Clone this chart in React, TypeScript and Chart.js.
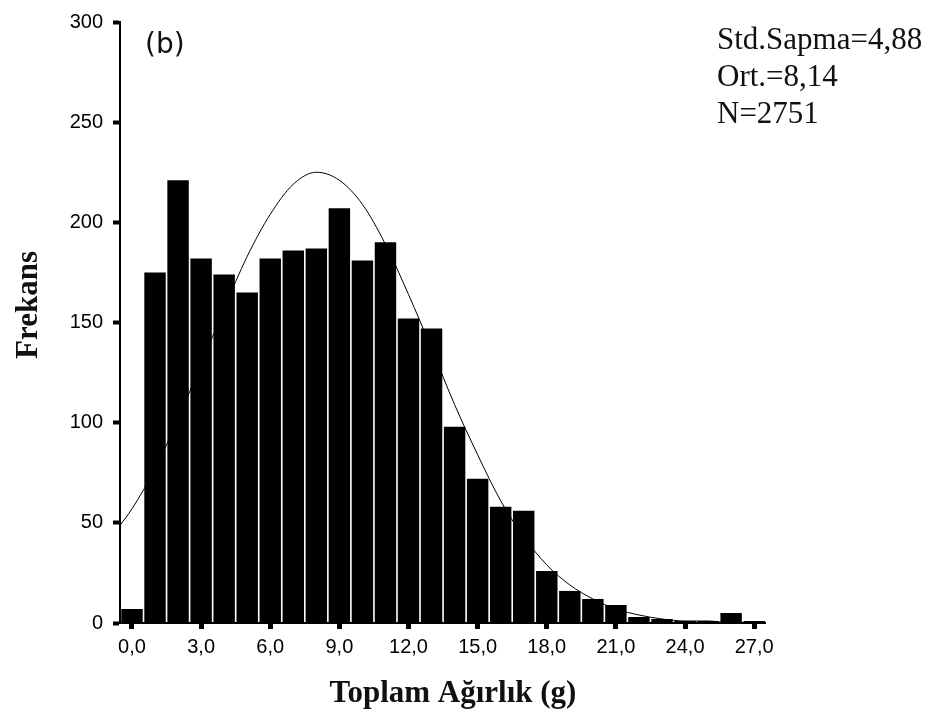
import React, { useEffect, useRef } from "react";
import { Chart, registerables } from "chart.js";

Chart.register(...registerables);

// Histogram bins (bin centres, g) and frequencies
const binCenters = [0, 1, 2, 3, 4, 5, 6, 7, 8, 9, 10, 11, 12, 13, 14, 15, 16, 17, 18, 19, 20, 21, 22, 23, 24, 25, 26, 27];
const frequencies = [7, 175, 221, 182, 174, 165, 182, 186, 187, 207, 181, 190, 152, 147, 98, 72, 58, 56, 26, 16, 12, 9, 3, 2, 1, 1, 5, 1];

// Fitted normal curve
const curveX = [-0.5, 0, 1, 2, 3, 4, 5, 6, 7, 8, 9, 10, 11, 12, 13, 14, 15, 16, 17, 18, 19, 20, 21, 22, 23, 24, 25, 26, 27];
const curveY = [49, 57, 77, 102, 129, 157, 183, 204, 219, 225, 221, 209, 189, 164, 137, 109, 84, 61, 43, 29, 19, 12, 7, 4, 2, 1, 1, 0, 0];

// Axis ticks
const xTickValues = [0, 3, 6, 9, 12, 15, 18, 21, 24, 27];
const xTickLabels = ["0,0", "3,0", "6,0", "9,0", "12,0", "15,0", "18,0", "21,0", "24,0", "27,0"];
const yTickValues = [0, 50, 100, 150, 200, 250, 300];

// Texts
const panelLabel = "(b)";
const statsLines = ["Std.Sapma=4,88", "Ort.=8,14", "N=2751"];
const xTitle = "Toplam Ağırlık (g)";
const yTitle = "Frekans";

export default function App() {
  const canvasRef = useRef<HTMLCanvasElement | null>(null);

  useEffect(() => {
    const canvas = canvasRef.current;
    if (!canvas) return;

    const textPlugin = {
      id: "textPlugin",
      afterDraw(chart: any) {
        const ctx = chart.ctx as CanvasRenderingContext2D;
        ctx.save();
        ctx.fillStyle = "#111";
        ctx.textBaseline = "alphabetic";
        ctx.textAlign = "left";
        ctx.font = '28px "DejaVu Sans"';
        ctx.fillText(panelLabel, 145, 53);
        ctx.font = '31px "Liberation Serif"';
        statsLines.forEach((t, i) => ctx.fillText(t, 717, 49 + i * 37));
        ctx.font = 'bold 31px "Liberation Serif"';
        ctx.textAlign = "center";
        ctx.fillText(xTitle, 453, 702);
        ctx.translate(37, 305);
        ctx.rotate(-Math.PI / 2);
        ctx.fillText(yTitle, 0, 0);
        ctx.restore();
      },
    };

    const chart = new Chart(canvas, {
      type: "bar",
      data: {
        datasets: [
          {
            type: "bar",
            data: binCenters.map((x, i) => ({ x, y: frequencies[i] })),
            backgroundColor: "#000",
            borderWidth: 0,
            barPercentage: 0.93,
            categoryPercentage: 1,
            order: 1,
          } as any,
          {
            type: "line",
            data: curveX.map((x, i) => ({ x, y: curveY[i] })),
            borderColor: "#000",
            borderWidth: 1,
            pointRadius: 0,
            cubicInterpolationMode: "monotone",
            fill: false,
            order: 2,
          } as any,
        ],
      },
      options: {
        animation: false,
        responsive: false,
        layout: { padding: { left: 0, top: 20, right: 167, bottom: 0 } },
        plugins: { legend: { display: false }, tooltip: { enabled: false } },
        scales: {
          x: {
            type: "linear",
            min: -0.52,
            max: 27.47,
            offset: false,
            grid: {
              offset: false,
              drawOnChartArea: false,
              drawTicks: true,
              tickLength: 6,
              tickWidth: 5,
              tickColor: "#000",
            },
            border: { display: true, color: "#000", width: 2 },
            ticks: {
              color: "#000",
              font: { family: '"Liberation Sans", Arial', size: 20 },
              padding: 6,
              maxRotation: 0,
              autoSkip: false,
              callback: (v: any) => {
                const idx = xTickValues.indexOf(Number(v));
                return idx >= 0 ? xTickLabels[idx] : "";
              },
            },
            afterBuildTicks: (scale: any) => {
              scale.ticks = xTickValues.map((v) => ({ value: v }));
            },
            afterFit: (scale: any) => {
              scale.height = 92;
            },
          } as any,
          y: {
            type: "linear",
            min: 0,
            max: 300,
            grid: {
              drawOnChartArea: false,
              drawTicks: true,
              tickLength: 7,
              tickWidth: 4,
              tickColor: "#000",
            },
            border: { display: true, color: "#000", width: 2 },
            ticks: {
              color: "#000",
              font: { family: '"Liberation Sans", Arial', size: 20 },
              padding: 10,
            },
            afterBuildTicks: (scale: any) => {
              scale.ticks = yTickValues.map((v) => ({ value: v }));
            },
            afterFit: (scale: any) => {
              scale.width = 120;
            },
          } as any,
        },
      },
      plugins: [textPlugin],
    });

    return () => chart.destroy();
  }, []);

  return (
    <div style={{ position: "absolute", left: 0, top: 0, width: 932, height: 715, background: "#fff" }}>
      <canvas ref={canvasRef} width={932} height={715} />
    </div>
  );
}
